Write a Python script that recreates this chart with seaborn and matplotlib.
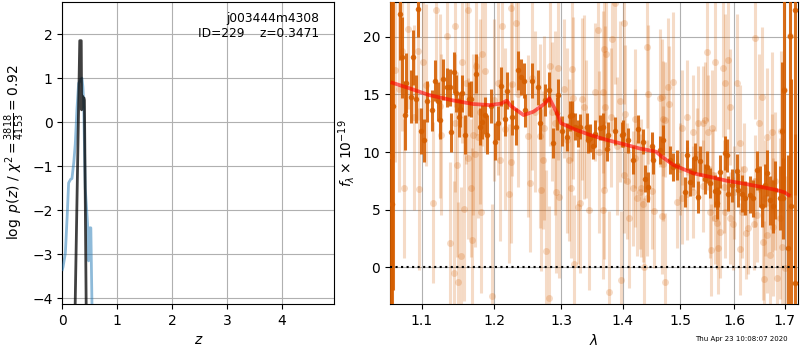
import matplotlib
matplotlib.use("Agg")
import matplotlib.pyplot as plt
from matplotlib.ticker import FixedLocator, FixedFormatter, NullLocator
import pandas as pd
import seaborn as sns

# --- redshift panel: log p(z) curves ---
PZ_Z = [0.0, 0.013, 0.055, 0.09, 0.115, 0.15, 0.176, 0.21, 0.236, 0.267,
        0.297, 0.327, 0.358, 0.375, 0.388, 0.418, 0.46, 0.479, 0.497, 0.52,
        0.54, 0.56]
PZ_LOGP = [-3.35, -3.29, -2.98, -2.1, -1.38, -1.3, -1.28, -0.9, -0.5, 0.3,
           0.88, 0.95, 1.0, 0.8, 0.5, -1.5, -2.3, -3.15, -2.4, -2.4,
           -4.1, -5.0]

FINE_Z = [0.228, 0.318, 0.335, 0.345, 0.352, 0.362, 0.378, 0.395, 0.403, 0.438]
FINE_LOGP = [-4.6, 1.85, 1.85, 1.85, 0.28, 0.6, 0.55, 0.55, 0.5, -4.6]

OBJ_NAME = "j003444m4308"
OBJ_ID = 229
Z_BEST = 0.3471
CHI2 = 3818
DOF = 4153

# --- spectrum panel ---
MODEL_WAVE = [1.062, 1.085, 1.109, 1.14, 1.170, 1.194, 1.210, 1.218, 1.224, 1.243,
              1.258, 1.275, 1.282, 1.294, 1.300, 1.320, 1.345, 1.374, 1.400, 1.429,
              1.457, 1.467, 1.488, 1.524, 1.549, 1.586, 1.620, 1.651, 1.684, 1.700,
              1.708]
MODEL_FLUX = [16.0, 15.5, 14.95, 14.5, 14.16, 14.07, 14.2, 14.45, 14.0, 13.2,
              13.5, 14.2, 14.66, 13.35, 12.5, 12.0, 11.5, 11.04, 10.7, 10.3,
              10.03, 9.6, 8.87, 8.15, 7.9, 7.51, 7.25, 6.99, 6.7, 6.5,
              6.27]

BIN_WAVE = [1.0596, 1.0611, 1.0627, 1.0713, 1.0742, 1.0776, 1.0800, 1.0856, 1.0886, 1.0920,
            1.0955, 1.0995, 1.1028, 1.1072, 1.1137, 1.1182, 1.1217, 1.1239, 1.1284, 1.1343,
            1.1380, 1.1398, 1.1435, 1.1466, 1.1500, 1.1521, 1.1546, 1.1591, 1.1638, 1.1675,
            1.1745, 1.1793, 1.1830, 1.1864, 1.1901, 1.1957, 1.2016, 1.2055, 1.2103, 1.2151,
            1.2191, 1.2258, 1.2313, 1.2347, 1.2397, 1.2433, 1.2451, 1.2551, 1.2643, 1.2678,
            1.2754, 1.2815, 1.2882, 1.2934, 1.2960, 1.3012, 1.3090, 1.3142, 1.3169, 1.3221,
            1.3274, 1.3301, 1.3408, 1.3434, 1.3461, 1.3515, 1.3542, 1.3624, 1.3678, 1.3734,
            1.3760, 1.3871, 1.3982, 1.4009, 1.4094, 1.4179, 1.4264, 1.4351, 1.4379, 1.4437,
            1.4495, 1.4524, 1.4640, 1.4698, 1.4817, 1.4876, 1.4936, 1.5086, 1.5117, 1.5177,
            1.5238, 1.5268, 1.5329, 1.5360, 1.5452, 1.5483, 1.5545, 1.5639, 1.5670, 1.5701,
            1.5733, 1.5827, 1.5859, 1.5890, 1.5954, 1.6051, 1.6082, 1.6148, 1.6212, 1.6309,
            1.6374, 1.6441, 1.6506, 1.6539, 1.6605, 1.6639, 1.6705, 1.6772, 1.6806, 1.6907,
            1.6942, 1.6975, 1.6989, 1.7064, 1.7111, 1.7126, 1.7214, 1.7220]
BIN_FLUX = [9.65, 5.46, 14.0, 21.97, 18.2, 13.2, 16.0, 14.8, 18.2, 14.6,
            22.4, 11.8, 11.0, 14.4, 13.6, 16.2, 14.4, 12.8, 16.3, 15.6,
            15.6, 11.7, 16.9, 15.1, 13.0, 13.7, 15.1, 11.5, 14.6, 14.6,
            16.8, 12.2, 12.6, 13.2, 11.5, 14.0, 10.9, 12.5, 15.7, 12.9,
            15.3, 13.0, 12.2, 17.1, 16.5, 16.2, 13.6, 16.2, 15.6, 12.5,
            14.5, 15.4, 10.75, 13.35, 14.9, 11.8, 11.3, 13.1, 13.2, 12.2,
            11.6, 12.2, 12.2, 11.0, 11.2, 10.5, 11.6, 12.1, 12.2, 10.3,
            11.5, 11.8, 11.5, 11.6, 11.0, 9.3, 12.0, 10.9, 7.7, 7.0,
            10.5, 9.3, 10.2, 11.0, 9.3, 8.7, 8.87, 6.5, 9.7, 7.4,
            8.3, 9.45, 6.1, 9.2, 7.7, 8.7, 7.3, 6.6, 5.55, 6.5,
            8.3, 9.9, 9.7, 6.4, 7.1, 8.35, 6.7, 6.4, 6.0, 6.3,
            6.0, 8.4, 7.0, 5.3, 7.1, 8.15, 5.8, 5.3, 6.7, 6.0,
            11.8, 6.0, 15.4, 1.7, 20.1, 5.3, 22.3, -1.4]
BIN_ERR = [20, 18, 16, 4.0, 3.5, 3.0, 2.6, 2.3, 2.4, 2.1,
           2.4, 2.0, 1.9, 1.8, 1.8, 1.8, 1.7, 1.7, 1.8, 1.7,
           1.6, 1.7, 1.8, 1.6, 1.7, 1.5, 1.6, 1.7, 1.5, 1.6,
           1.7, 1.6, 1.5, 1.6, 1.7, 1.5, 1.6, 1.5, 1.7, 1.5,
           1.6, 1.5, 1.6, 1.7, 1.6, 1.5, 1.4, 1.5, 1.5, 1.4,
           1.4, 1.5, 1.3, 1.4, 1.4, 1.3, 1.2, 1.3, 1.2, 1.2,
           1.2, 1.1, 1.2, 1.1, 1.2, 1.1, 1.2, 1.1, 1.2, 1.1,
           1.1, 1.2, 1.1, 1.2, 1.1, 1.2, 1.2, 1.1, 1.2, 1.3,
           1.2, 1.2, 1.2, 1.3, 1.2, 1.2, 1.3, 1.3, 1.3, 1.2,
           1.3, 1.3, 1.4, 1.3, 1.3, 1.4, 1.3, 1.4, 1.4, 1.3,
           1.4, 1.5, 1.4, 1.5, 1.4, 1.5, 1.5, 1.6, 1.5, 1.6,
           1.6, 1.7, 1.8, 1.8, 1.9, 2.0, 2.1, 2.3, 2.5, 2.8,
           6.0, 3.5, 9.0, 8.0, 14.0, 11.0, 16.0, 13.0]

RAW_WAVE = [1.0656, 1.0700, 1.0737, 1.0772, 1.0824, 1.0900, 1.0950, 1.0963, 1.1017, 1.1050,
            1.1150, 1.1194, 1.1250, 1.1262, 1.1343, 1.1376, 1.1435, 1.1444, 1.1450, 1.1480,
            1.1494, 1.1535, 1.1545, 1.1573, 1.1600, 1.1628, 1.1630, 1.1675, 1.1677, 1.1699,
            1.1723, 1.1745, 1.1769, 1.1800, 1.1816, 1.1830, 1.1864, 1.1972, 1.2000, 1.2055,
            1.2080, 1.2118, 1.2150, 1.2210, 1.2248, 1.2250, 1.2258, 1.2313, 1.2350, 1.2493,
            1.2526, 1.2560, 1.2600, 1.2678, 1.2689, 1.2729, 1.2744, 1.2775, 1.2821, 1.2831,
            1.2857, 1.2900, 1.2923, 1.2950, 1.2974, 1.3053, 1.3100, 1.3132, 1.3158, 1.3170,
            1.3195, 1.3211, 1.3274, 1.3306, 1.3338, 1.3370, 1.3400, 1.3450, 1.3542, 1.3596,
            1.3600, 1.3678, 1.3680, 1.3689, 1.3694, 1.3706, 1.3727, 1.3777, 1.3805, 1.3826,
            1.3871, 1.3900, 1.3954, 1.3971, 1.4021, 1.4026, 1.4038, 1.4066, 1.4100, 1.4179,
            1.4200, 1.4208, 1.4237, 1.4293, 1.4310, 1.4351, 1.4353, 1.4409, 1.4420, 1.4437,
            1.4495, 1.4536, 1.4640, 1.4670, 1.4680, 1.4698, 1.4700, 1.4733, 1.4735, 1.4788,
            1.4795, 1.4876, 1.4936, 1.5000, 1.5026, 1.5028, 1.5117, 1.5128, 1.5226, 1.5238,
            1.5300, 1.5318, 1.5410, 1.5421, 1.5452, 1.5495, 1.5514, 1.5545, 1.5558, 1.5588,
            1.5600, 1.5639, 1.5641, 1.5670, 1.5701, 1.5733, 1.5795, 1.5800, 1.5827, 1.5833,
            1.5890, 1.5922, 1.5924, 1.5974, 1.6000, 1.6063, 1.6115, 1.6117, 1.6148, 1.6200,
            1.6231, 1.6276, 1.6393, 1.6400, 1.6407, 1.6441, 1.6492, 1.6552, 1.6572, 1.6592,
            1.6600, 1.6639, 1.6651, 1.6705, 1.6739, 1.6752, 1.6772, 1.6800, 1.6840, 1.6907,
            1.6921, 1.6942, 1.6989, 1.7009, 1.7111]
RAW_FLUX = [17.1, 15.5, 18.8, 6.85, 20.7, 13.0, 18.8, 6.8, 17.8, 15.8,
            5.6, 22.3, 14.0, 11.5, 20.1, 2.1, -0.5, 20.9, 12.5, 8.9,
            -1.3, 0.98, 17.8, 5.1, 16.0, 22.3, 9.45, 6.9, 2.37, 11.5,
            9.8, 17.5, 11.3, 13.5, 4.8, 18.5, 17.0, -2.5, 14.5, 16.0,
            9.3, 20.9, 12.0, 6.4, 22.5, 9.1, 15.9, 21.2, 15.0, 11.4,
            7.3, 16.4, 13.5, 11.4, 6.7, 9.3, 12.1, 1.4, -2.66, 17.5,
            13.5, 12.5, 6.5, 17.3, 6.1, 15.5, 11.0, 9.3, 6.85, 17.2,
            14.7, 0.3, 5.25, 5.55, 14.6, 13.9, 12.0, 5.0, 15.2, 20.6,
            10.0, 5.0, 15.2, 18.9, 6.7, 13.9, 18.5, -2.1, 13.0, 19.8,
            22.9, 10.5, 14.4, -1.1, 8.0, 21.2, 13.3, 7.5, 4.25, 6.85,
            9.5, 12.9, 6.0, 6.55, 6.9, 5.5, 0.0, 19.1, 6.0, 15.0,
            6.6, 4.9, 14.7, 14.8, 4.45, 12.9, 9.0, -1.3, 12.8, 15.6,
            14.2, 16.1, 5.7, 8.5, 6.0, 12.1, 6.4, 13.0, 11.7, 6.55,
            9.8, 12.5, 12.5, 7.05, 12.8, 18.7, 11.7, 4.8, 1.5, 12.1,
            8.0, 17.8, 4.25, 3.87, 1.65, 3.1, 17.3, 7.0, 4.8, 16.0,
            18.0, 13.9, 4.25, 3.8, 6.5, 16.0, 10.8, 1.6, 4.8, 8.5,
            2.95, 3.4, 3.75, 7.5, 19.9, 4.5, 12.5, 14.8, 2.2, -1.0,
            6.0, 2.8, 11.3, 1.1, 7.3, 11.7, 3.5, 7.5, -0.95, 4.25,
            11.8, 1.8, 15.4, -0.1, 20.1]
RAW_ERR = [8, 9, 7, 6, 7, 8, 6, 7, 6, 7,
           7, 8, 8, 7, 6, 7, 8, 7, 6, 8,
           7, 6, 7, 8, 7, 8, 7, 6, 8, 7,
           8, 6, 7, 8, 7, 8, 7, 8, 7, 8,
           7, 8, 7, 6, 8, 7, 8, 6, 8, 7,
           6, 8, 7, 8, 7, 6, 8, 7, 8, 7,
           6, 8, 7, 8, 7, 6, 8, 7, 6, 8,
           7, 6, 5, 6, 7, 8, 6, 7, 6, 8,
           7, 6, 7, 8, 6, 7, 6, 7, 6, 8,
           7, 6, 7, 6, 5, 7, 6, 5, 6, 5,
           6, 6, 5, 5, 6, 5, 6, 7, 5, 6,
           5, 5, 6, 5, 5, 5, 5, 6, 5, 6,
           5, 6, 4, 4, 4, 5, 4, 5, 5, 4,
           4, 5, 5, 4, 5, 6, 5, 4, 4, 5,
           4, 6, 4, 4, 4, 4, 6, 4, 4, 6,
           6, 5, 4, 4, 4, 6, 5, 4, 4, 4,
           4, 4, 4, 4, 7, 4, 6, 6, 5, 5,
           5, 5, 6, 5, 6, 7, 6, 6, 6, 7,
           7, 7, 8, 8, 9]

WAVE_TICKS = [1.1, 1.2, 1.3, 1.4, 1.5, 1.6, 1.7]
TIMESTAMP = "Thu Apr 23 10:08:07 2020"

G141_COLOR = (0.835, 0.369, 0.0)


def plot_pz(ax):
    """Left panel: log p(z) for the coarse and fine redshift grids."""
    pz = pd.DataFrame({"z": PZ_Z, "logp": PZ_LOGP})
    fine = pd.DataFrame({"z": FINE_Z, "logp": FINE_LOGP})
    sns.lineplot(data=pz, x="z", y="logp", ax=ax, color="tab:blue",
                 alpha=0.5, linewidth=2, sort=False, estimator=None, zorder=3)
    sns.lineplot(data=fine, x="z", y="logp", ax=ax, color="k",
                 alpha=0.75, linewidth=2, sort=False, estimator=None, zorder=4)

    ax.set_xlim(0, 4.96)
    ax.set_ylim(-4.13, 2.74)
    ax.grid(True)
    ax.set_xlabel("$z$")
    ax.set_ylabel(r"$\log\ p(z)$" + " / " +
                  r"$\chi^2=\frac{%d}{%d}=%.2f$" % (CHI2, DOF, CHI2 / DOF))
    ax.text(0.945, 0.965, f"{OBJ_NAME}\nID={OBJ_ID}    z={Z_BEST:.4f}",
            ha="right", va="top", transform=ax.transAxes, fontsize=8.8)


def plot_spectrum(ax):
    """Right panel: raw + binned G141 spectrum with best-fit model."""
    ax.errorbar(RAW_WAVE, RAW_FLUX, yerr=RAW_ERR, fmt="o", color=G141_COLOR,
                alpha=0.22, markersize=5, elinewidth=2.2, capsize=0,
                markeredgewidth=0, zorder=2)
    ax.errorbar(BIN_WAVE, BIN_FLUX, yerr=BIN_ERR, fmt="o", color=G141_COLOR,
                alpha=0.88, markersize=4, elinewidth=2.2, capsize=0,
                markeredgewidth=0, zorder=3)

    model = pd.DataFrame({"wave": MODEL_WAVE, "flux": MODEL_FLUX})
    sns.lineplot(data=model, x="wave", y="flux", ax=ax, color="r",
                 alpha=0.6, linewidth=2.7, sort=False, estimator=None, zorder=5)

    ax.axhline(0, color="k", linestyle=":", linewidth=1.5, zorder=6)

    ax.set_xscale("log")
    ax.set_xlim(1.0589, 1.7276)
    ax.set_ylim(-3.18, 23.05)
    ax.xaxis.set_major_locator(FixedLocator(WAVE_TICKS))
    ax.xaxis.set_major_formatter(FixedFormatter([f"{t:.1f}" for t in WAVE_TICKS]))
    ax.xaxis.set_minor_locator(NullLocator())
    ax.grid(True)
    ax.set_xlabel(r"$\lambda$")
    ax.set_ylabel(r"$f_\lambda\times10^{-19}$")


def main():
    fig = plt.figure(figsize=(8, 3.5), dpi=100)
    ax_z = fig.add_axes([0.0779, 0.1314, 0.34, 0.8643])
    ax_s = fig.add_axes([0.4875, 0.1314, 0.51, 0.8643])

    plot_pz(ax_z)
    plot_spectrum(ax_s)

    fig.text(0.985, 0.031, TIMESTAMP, ha="right", va="center", fontsize=5)
    fig.savefig("out.png", dpi=100)


if __name__ == "__main__":
    main()
